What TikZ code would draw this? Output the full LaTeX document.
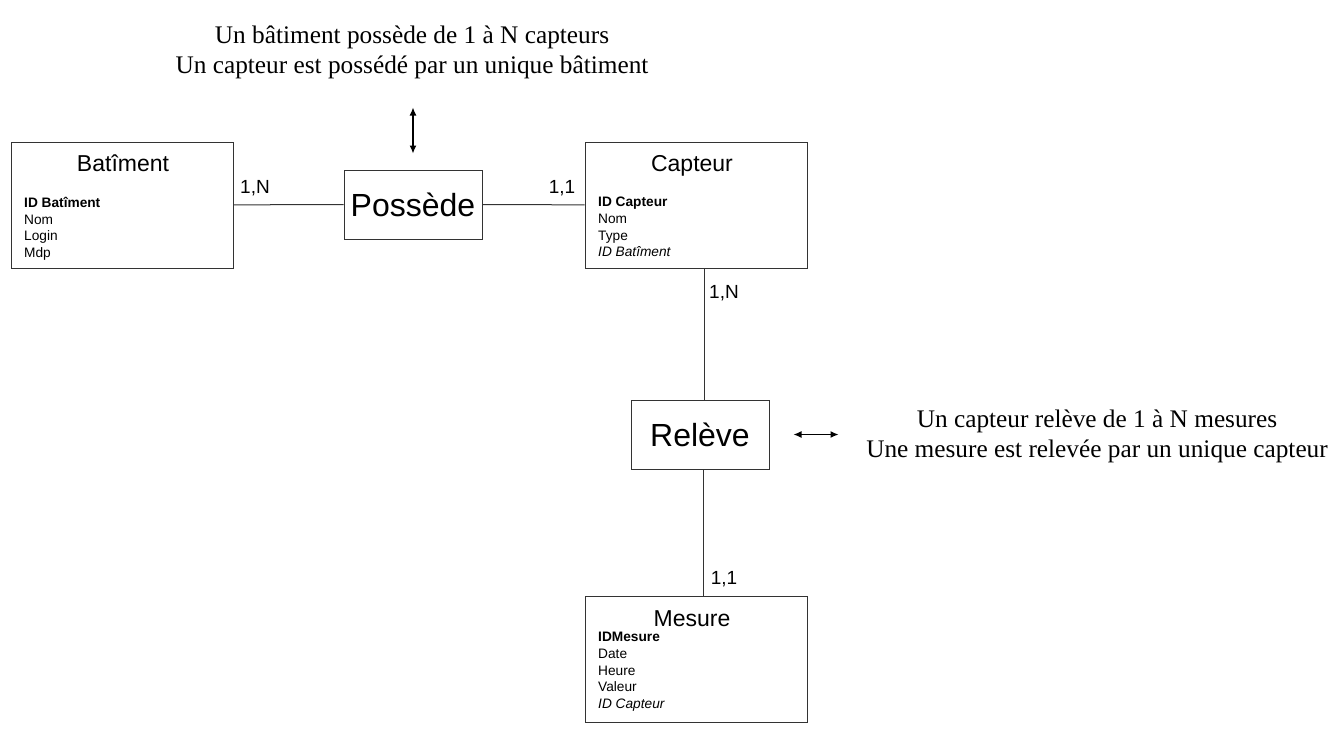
\documentclass[tikz,border=0pt]{standalone}
\usepackage{fontspec}
\setmainfont{Liberation Serif}
\setsansfont{Liberation Sans}
\usetikzlibrary{positioning,arrows.meta}
\tikzset{
  entity/.style={draw=black!80, line width=1pt, minimum width=222pt, minimum height=126pt, inner sep=0pt},
  relation/.style={draw=black!80, line width=1pt, minimum width=138pt, minimum height=69pt, inner sep=0pt, font=\sffamily\fontsize{32}{36}\selectfont},
  etitle/.style={anchor=base, font=\sffamily\fontsize{23}{25}\selectfont, inner sep=0pt},
  attrs/.style={anchor=north west, align=left, inner sep=0pt, font=\sffamily\fontsize{13.7}{16.7}\selectfont},
  card/.style={font=\sffamily\fontsize{19}{21}\selectfont, inner sep=0pt},
  note/.style={align=center, inner sep=0pt, font=\fontsize{25.3}{30}\selectfont},
  link/.style={draw=black!80, line width=1pt},
  dblarrow/.style={{Latex[length=8pt,width=7pt]}-{Latex[length=8pt,width=7pt]}, line width=1.2pt}
}
\begin{document}
\begin{tikzpicture}[x=1pt, y=-1pt]
\useasboundingbox (0,0) rectangle (1339,734);
% entites
\node[entity] (bat) at (122,205) {};
\node[etitle] at (123,171) {Batîment};
\node[attrs] at (24,197) {\textbf{ID Batîment}\\Nom\\Login\\Mdp};
\node[entity] (cap) at (696,205) {};
\node[etitle] at (692,171) {Capteur};
\node[attrs] at (598,197) {\textbf{ID Capteur}\\Nom\\Type\\\textit{ID Batîment}};
\node[entity] (mes) at (696,659) {};
\node[etitle] at (692,626) {Mesure};
\node[attrs] at (598,632) {\textbf{IDMesure}\\Date\\Heure\\Valeur\\\textit{ID Capteur}};
% associations
\node[relation] (pos) at (413,204.5) {Possède};
\node[relation] (rel) at (700,434.5) {Relève};
\draw[link] (bat) -- (pos);
\draw[link] (pos) -- (cap);
\draw[link] ([xshift=4pt]rel.north) -- ([xshift=4pt]rel.north |- cap.south);
\draw[link] ([xshift=3pt]rel.south) -- ([xshift=3pt]rel.south |- mes.north);
% cardinalites
\node[card] at (255,188) {1,N};
\node[card] at (562,188) {1,1};
\node[card] at (724,293) {1,N};
\node[card] at (724,579) {1,1};
% explications
\node[note] (npos) at (412,52) {Un bâtiment possède de 1 à N capteurs\\Un capteur est possédé par un unique bâtiment};
\node[note] (nrel) at (1097,436) {Un capteur relève de 1 à N mesures\\Une mesure est relevée par un unique capteur};
\draw[dblarrow] ([yshift=16pt]pos.north) -- ([yshift=62pt]pos.north);
\draw[dblarrow] ([xshift=24pt]rel.east) -- ([xshift=69pt]rel.east);
\end{tikzpicture}
\end{document}
